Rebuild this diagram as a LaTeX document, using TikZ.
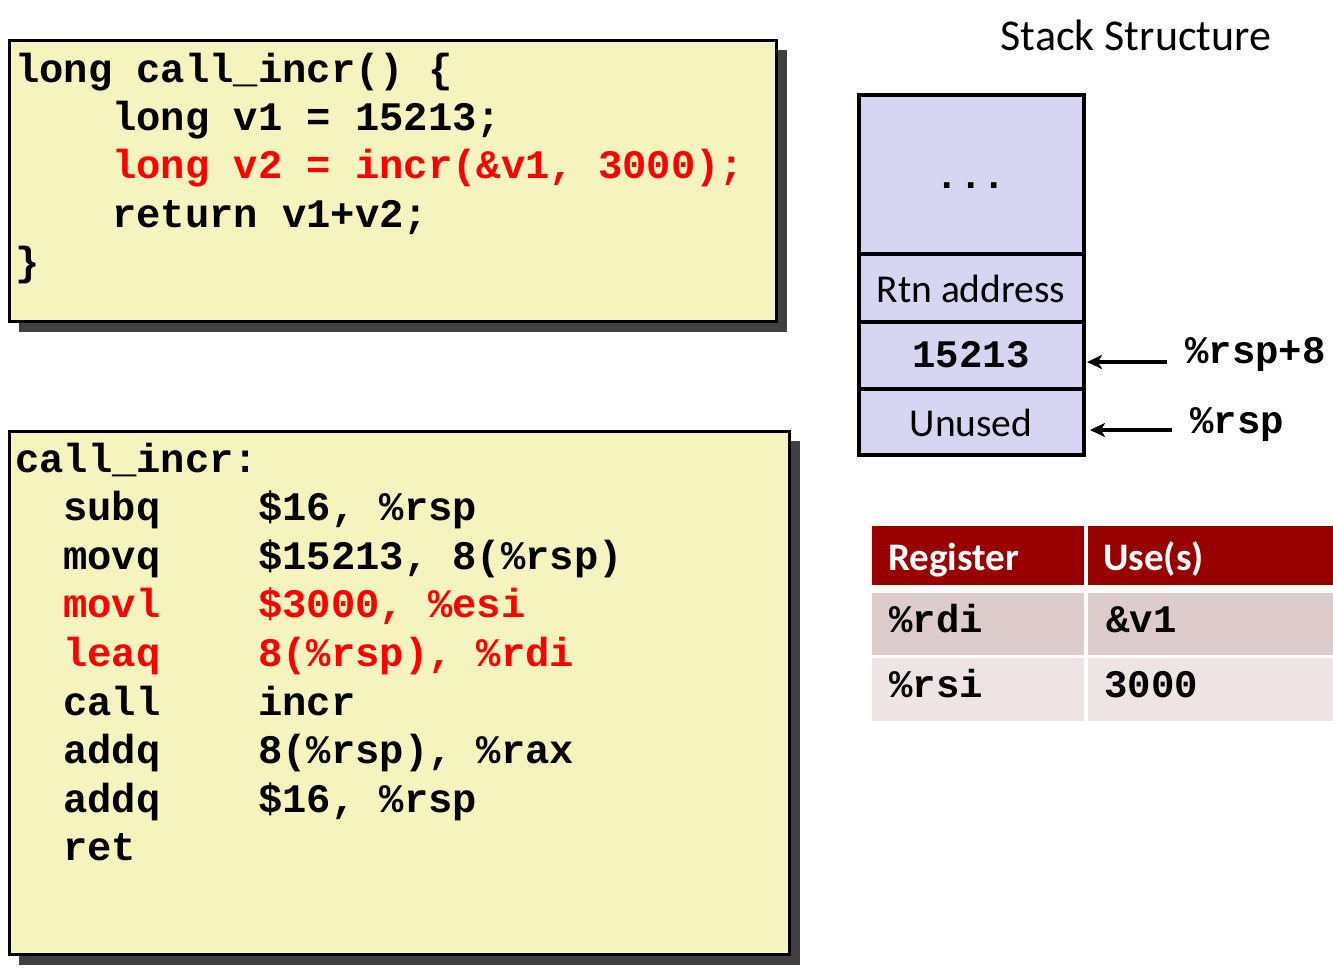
\documentclass[tikz,border=0pt]{standalone}
\usepackage{fontspec}
\setmainfont{Carlito}
\newfontfamily\mycodefam{Liberation Mono}
\newcommand\mycode{\mycodefam\bfseries}
\usetikzlibrary{arrows.meta}
\definecolor{boxyellow}{RGB}{245,243,190}
\definecolor{shadowgray}{RGB}{64,64,64}
\definecolor{stackblue}{RGB}{214,214,242}
\definecolor{codered}{RGB}{255,0,0}
\definecolor{hdrred}{RGB}{153,0,0}
\definecolor{rowone}{RGB}{222,203,203}
\definecolor{rowtwo}{RGB}{238,228,228}
\begin{document}
\begin{tikzpicture}[x=1pt,y=-1pt,
  codebox/.style={draw=black, line width=3pt, fill=boxyellow, anchor=north west, inner sep=0pt, outer sep=0pt},
  shadowbox/.style={fill=shadowgray, anchor=north west, inner sep=0pt, outer sep=0pt},
  code/.style={anchor=base west, inner sep=0pt, font=\mycode\fontsize{40.5}{48}\selectfont},
  hot/.style={text=codered},
  cell/.style={draw=black, line width=4pt, fill=stackblue, anchor=north west, inner sep=0pt, outer sep=0pt},
  stxt/.style={anchor=base, inner sep=0pt, font=\fontsize{39.5}{44}\selectfont},
  scode/.style={anchor=base, inner sep=0pt, font=\mycode\fontsize{39}{44}\selectfont},
  lbl/.style={anchor=base west, inner sep=0pt, font=\mycode\fontsize{39}{44}\selectfont},
  ptr/.style={line width=3.5pt, arrows={-Stealth[length=15pt,width=14pt,inset=4pt]}},
  tcell/.style={anchor=north west, inner sep=0pt, outer sep=0pt},
  thead/.style={anchor=base west, inner sep=0pt, text=white, font=\bfseries\fontsize{39}{44}\selectfont},
  tcode/.style={anchor=base west, inner sep=0pt, font=\mycode\fontsize{39}{44}\selectfont}
]
\useasboundingbox[fill=white] (0,0) rectangle (1333,970);

% ---- C code box ----
\node[shadowbox, minimum width=768pt, minimum height=282pt] (cshadow) at (19,50) {};
\node[codebox, minimum width=767pt, minimum height=281pt] (cbox) at (9,40) {};
\node[code] (c1) at (15,82) {long call\_incr() \{};
\node[code] (c2) at (112,130) {long v1 = 15213;};
\node[code,hot] (c3) at (112,178) {long v2 = incr(\&v1, 3000);};
\node[code] (c4) at (112,227) {return v1+v2;};
\node[code] (c5) at (15,275) {\}};

% ---- assembly box ----
\node[shadowbox, minimum width=781pt, minimum height=524pt] (ashadow) at (19,441) {};
\node[codebox, minimum width=780pt, minimum height=523pt] (abox) at (9,431) {};
\node[code] (a0) at (15,472) {call\_incr:};
\node[code] (m1) at (63,520.6) {subq};
\node[code] (o1) at (258,520.6) {\$16, \%rsp};
\node[code] (m2) at (63,569.2) {movq};
\node[code] (o2) at (258,569.2) {\$15213, 8(\%rsp)};
\node[code,hot] (m3) at (63,617.8) {movl};
\node[code,hot] (o3) at (258,617.8) {\$3000, \%esi};
\node[code,hot] (m4) at (63,666.4) {leaq};
\node[code,hot] (o4) at (258,666.4) {8(\%rsp), \%rdi};
\node[code] (m5) at (63,715) {call};
\node[code] (o5) at (258,715) {incr};
\node[code] (m6) at (63,763.6) {addq};
\node[code] (o6) at (258,763.6) {8(\%rsp), \%rax};
\node[code] (m7) at (63,812.2) {addq};
\node[code] (o7) at (258,812.2) {\$16, \%rsp};
\node[code] (m8) at (63,860.8) {ret};

% ---- stack ----
\node[anchor=base, inner sep=0pt, font=\fontsize{44}{50}\selectfont] (title) at (1136,50) {Stack Structure};
\node[cell, minimum width=225pt, minimum height=159pt] (s1) at (859,95) {};
\node[cell, minimum width=225pt, minimum height=68pt] (s2) at (859,254) {};
\node[cell, minimum width=225pt, minimum height=67pt] (s3) at (859,322) {};
\node[cell, minimum width=225pt, minimum height=66pt] (s4) at (859,389) {};
\node[scode] (dots) at (971,188) {...};
\node[stxt] (rtn) at (971,302) {Rtn address};
\node[scode] (val) at (971,367) {15213};
\node[stxt] (unused) at (971,436) {Unused};

\node[lbl] (rsp8) at (1185,363) {\%rsp+8};
\node[lbl] (rsp) at (1190,433) {\%rsp};
\coordinate (t1) at (1167,362);
\coordinate (h1) at (1087,362);
\coordinate (t2) at (1172,430);
\coordinate (h2) at (1090,430);
\draw[ptr] (t1) -- (h1);
\draw[ptr] (t2) -- (h2);

% ---- register table ----
\node[tcell, fill=hdrred, minimum width=212pt, minimum height=59pt] (h1c) at (872,526) {};
\node[tcell, fill=hdrred, minimum width=245pt, minimum height=59pt] (h2c) at (1088,526) {};
\node[tcell, fill=rowone, minimum width=212pt, minimum height=62pt] (r1a) at (872,593) {};
\node[tcell, fill=rowone, minimum width=245pt, minimum height=62pt] (r1b) at (1088,593) {};
\node[tcell, fill=rowtwo, minimum width=212pt, minimum height=63pt] (r2a) at (872,658) {};
\node[tcell, fill=rowtwo, minimum width=245pt, minimum height=63pt] (r2b) at (1088,658) {};
\node[thead] (hreg) at (888,570) {Register};
\node[thead] (huse) at (1103,570) {Use(s)};
\node[tcode] (rdi) at (889,632) {\%rdi};
\node[tcode] (v1) at (1106,632) {\&v1};
\node[tcode] (rsi) at (889,697) {\%rsi};
\node[tcode] (n3000) at (1104,697) {3000};
\end{tikzpicture}
\end{document}
